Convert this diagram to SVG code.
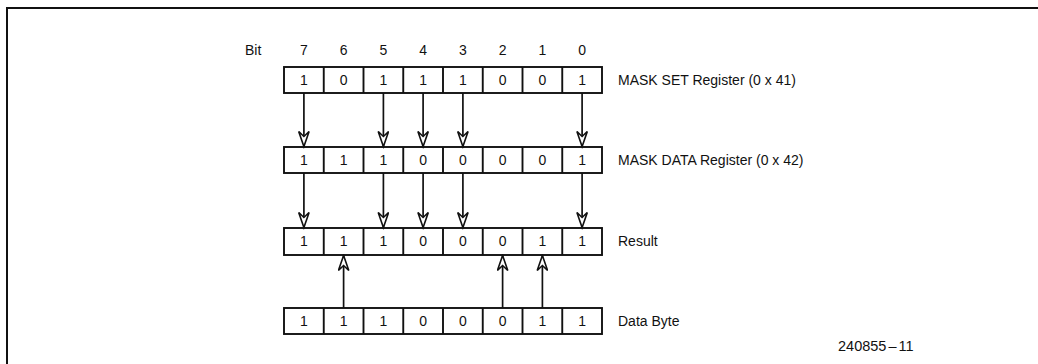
<svg xmlns="http://www.w3.org/2000/svg" width="1038" height="364" viewBox="0 0 1038 364">
<style>
text{font-family:"Liberation Sans",Arial,sans-serif;font-size:14px;fill:#111}
.c{text-anchor:middle}
.reg rect{fill:#fff;stroke:#111;stroke-width:1.9}
.reg line{stroke:#111;stroke-width:1.9}
.conn line{stroke:#111;stroke-width:1.7;marker-end:url(#ah)}
</style>
<defs>
<marker id="ah" markerUnits="userSpaceOnUse" viewBox="0 0 18 12" markerWidth="18" markerHeight="12" refX="16.5" refY="6" orient="auto">
<path d="M1,0.8 L16,6 L1,11.2 L6,6 Z" fill="#fff" stroke="#111" stroke-width="1.6" stroke-linejoin="miter"/>
</marker>
</defs>
<rect width="1038" height="364" fill="#fff"/>
<path d="M7,364 V8 H1038" fill="none" stroke="#111" stroke-width="2"/>

<g id="bits">
<text x="245" y="55">Bit</text>
<text class="c" x="303.9" y="55">7</text>
<text class="c" x="343.6" y="55">6</text>
<text class="c" x="383.4" y="55">5</text>
<text class="c" x="423.1" y="55">4</text>
<text class="c" x="462.9" y="55">3</text>
<text class="c" x="502.6" y="55">2</text>
<text class="c" x="542.4" y="55">1</text>
<text class="c" x="582.1" y="55">0</text>
</g>

<g id="mask-set" class="reg">
<rect x="284" y="67" width="318" height="26"/>
<line x1="323.75" y1="67" x2="323.75" y2="93"/><line x1="363.5" y1="67" x2="363.5" y2="93"/><line x1="403.25" y1="67" x2="403.25" y2="93"/><line x1="443" y1="67" x2="443" y2="93"/><line x1="482.75" y1="67" x2="482.75" y2="93"/><line x1="522.5" y1="67" x2="522.5" y2="93"/><line x1="562.25" y1="67" x2="562.25" y2="93"/>
<text class="c" x="303.9" y="85">1</text><text class="c" x="343.6" y="85">0</text><text class="c" x="383.4" y="85">1</text><text class="c" x="423.1" y="85">1</text><text class="c" x="462.9" y="85">1</text><text class="c" x="502.6" y="85">0</text><text class="c" x="542.4" y="85">0</text><text class="c" x="582.1" y="85">1</text>
<text x="618" y="85">MASK SET Register (0 x 41)</text>
</g>

<g id="mask-data" class="reg">
<rect x="284" y="147" width="318" height="26"/>
<line x1="323.75" y1="147" x2="323.75" y2="173"/><line x1="363.5" y1="147" x2="363.5" y2="173"/><line x1="403.25" y1="147" x2="403.25" y2="173"/><line x1="443" y1="147" x2="443" y2="173"/><line x1="482.75" y1="147" x2="482.75" y2="173"/><line x1="522.5" y1="147" x2="522.5" y2="173"/><line x1="562.25" y1="147" x2="562.25" y2="173"/>
<text class="c" x="303.9" y="165">1</text><text class="c" x="343.6" y="165">1</text><text class="c" x="383.4" y="165">1</text><text class="c" x="423.1" y="165">0</text><text class="c" x="462.9" y="165">0</text><text class="c" x="502.6" y="165">0</text><text class="c" x="542.4" y="165">0</text><text class="c" x="582.1" y="165">1</text>
<text x="618" y="165">MASK DATA Register (0 x 42)</text>
</g>

<g id="result" class="reg">
<rect x="284" y="228" width="318" height="27"/>
<line x1="323.75" y1="228" x2="323.75" y2="255"/><line x1="363.5" y1="228" x2="363.5" y2="255"/><line x1="403.25" y1="228" x2="403.25" y2="255"/><line x1="443" y1="228" x2="443" y2="255"/><line x1="482.75" y1="228" x2="482.75" y2="255"/><line x1="522.5" y1="228" x2="522.5" y2="255"/><line x1="562.25" y1="228" x2="562.25" y2="255"/>
<text class="c" x="303.9" y="246">1</text><text class="c" x="343.6" y="246">1</text><text class="c" x="383.4" y="246">1</text><text class="c" x="423.1" y="246">0</text><text class="c" x="462.9" y="246">0</text><text class="c" x="502.6" y="246">0</text><text class="c" x="542.4" y="246">1</text><text class="c" x="582.1" y="246">1</text>
<text x="618" y="246">Result</text>
</g>

<g id="data-byte" class="reg">
<rect x="284" y="308" width="318" height="26"/>
<line x1="323.75" y1="308" x2="323.75" y2="334"/><line x1="363.5" y1="308" x2="363.5" y2="334"/><line x1="403.25" y1="308" x2="403.25" y2="334"/><line x1="443" y1="308" x2="443" y2="334"/><line x1="482.75" y1="308" x2="482.75" y2="334"/><line x1="522.5" y1="308" x2="522.5" y2="334"/><line x1="562.25" y1="308" x2="562.25" y2="334"/>
<text class="c" x="303.9" y="326">1</text><text class="c" x="343.6" y="326">1</text><text class="c" x="383.4" y="326">1</text><text class="c" x="423.1" y="326">0</text><text class="c" x="462.9" y="326">0</text><text class="c" x="502.6" y="326">0</text><text class="c" x="542.4" y="326">1</text><text class="c" x="582.1" y="326">1</text>
<text x="618" y="326">Data Byte</text>
</g>

<g id="connectors" class="conn">
<line x1="303.9" y1="93" x2="303.9" y2="147"/>
<line x1="383.4" y1="93" x2="383.4" y2="147"/>
<line x1="423.1" y1="93" x2="423.1" y2="147"/>
<line x1="462.9" y1="93" x2="462.9" y2="147"/>
<line x1="582.1" y1="93" x2="582.1" y2="147"/>
<line x1="303.9" y1="173" x2="303.9" y2="228"/>
<line x1="383.4" y1="173" x2="383.4" y2="228"/>
<line x1="423.1" y1="173" x2="423.1" y2="228"/>
<line x1="462.9" y1="173" x2="462.9" y2="228"/>
<line x1="582.1" y1="173" x2="582.1" y2="228"/>
<line x1="343.6" y1="308" x2="343.6" y2="255"/>
<line x1="502.6" y1="308" x2="502.6" y2="255"/>
<line x1="542.4" y1="308" x2="542.4" y2="255"/>
</g>

<text x="838" y="351" style="font-size:14.5px">240855<tspan dx="2">–</tspan><tspan dx="2">11</tspan></text>
</svg>
